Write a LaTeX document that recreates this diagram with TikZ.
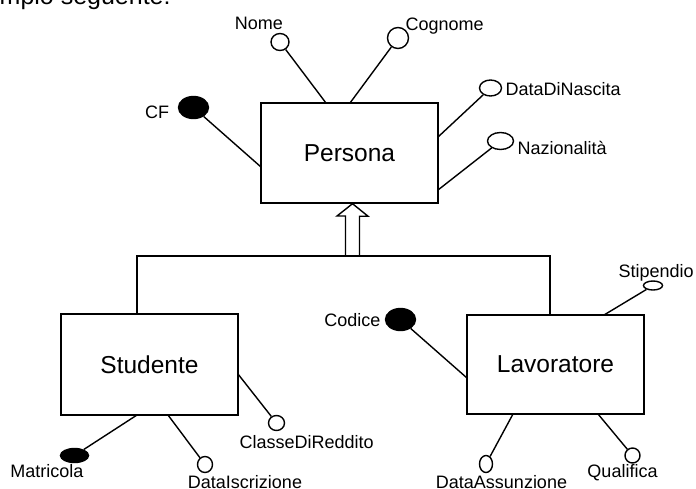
\documentclass[tikz,border=0pt]{standalone}
\usepackage{fontspec}
\setmainfont{Liberation Sans}
\usetikzlibrary{shapes.geometric}
\begin{document}
\begin{tikzpicture}[x=1pt,y=-1pt,line width=1.4pt,
  entity/.style={draw,rectangle,inner sep=0pt,minimum width=177pt,minimum height=100pt,
    font=\fontsize{24.5}{28}\selectfont},
  attr/.style={draw,ellipse,inner sep=0pt},
  keyattr/.style={attr,fill=black},
  lab/.style={inner sep=0pt,anchor=base,font=\fontsize{18}{21}\selectfont},
  labw/.style={lab,anchor=base west},
  labe/.style={lab,anchor=base east}]
\useasboundingbox (0,0) rectangle (696,488);
\clip (0,0) rectangle (696,488);

% heading line of the surrounding text
\node[inner sep=0pt,anchor=base west,font=\fontsize{25}{30}\selectfont] (head) at (-1,4.5) {mpio seguente:};

% entities
\node[entity] (persona) at (349.5,153) {Persona};
\node[entity,minimum height=101pt] (studente) at (149.5,364.5) {Studente};
\node[entity,minimum height=99pt] (lavoratore) at (555.5,364.5) {Lavoratore};

% attachment points on the entity borders
\coordinate (pNome) at (326,103);
\coordinate (pCognome) at (350,103);
\coordinate (pData) at (438,137);
\coordinate (pNaz) at (438,190);
\coordinate (pCF) at (261,167);
\coordinate (sMatr) at (137,415);
\coordinate (sIscr) at (168,415);
\coordinate (sClasse) at (238,374);
\coordinate (lCod) at (467,378);
\coordinate (lStip) at (604,315);
\coordinate (lAss) at (513,414);
\coordinate (lQual) at (598,414);

% attributes of Persona
\node[attr,minimum width=18pt,minimum height=17pt] (nome) at (280,42) {};
\node[attr,minimum width=21pt,minimum height=21pt] (cognome) at (398,38) {};
\node[attr,minimum width=22pt,minimum height=16pt] (datanascita) at (490.5,88) {};
\node[attr,minimum width=26pt,minimum height=17pt] (naz) at (500.5,141) {};
\node[keyattr,minimum width=30pt,minimum height=22pt] (cf) at (193.5,107.5) {};

\node[lab] (nomeL) at (259,29) {Nome};
\node[labw] (cognomeL) at (405,30) {Cognome};
\node[labw] (datanascitaL) at (505,95) {DataDiNascita};
\node[labw] (nazL) at (517,154) {Nazionalità};
\node[lab] (cfL) at (157,118.3) {CF};

\draw (nome) -- (pNome);
\draw (cognome) -- (pCognome);
\draw (datanascita) -- (pData);
\draw (naz) -- (pNaz);
\draw (cf) -- (pCF);

% attributes of Studente
\node[keyattr,minimum width=28pt,minimum height=14pt] (matr) at (74.5,455.5) {};
\node[attr,minimum width=15pt,minimum height=16pt] (iscr) at (205,464.5) {};
\node[attr,minimum width=16pt,minimum height=15pt] (classe) at (276.5,423) {};

\node[lab] (matrL) at (47,477) {Matricola};
\node[lab] (iscrL) at (245,488) {DataIscrizione};
\node[labw] (classeL) at (239,448.3) {ClasseDiReddito};

\draw (matr) -- (sMatr);
\draw (iscr) -- (sIscr);
\draw (classe) -- (sClasse);

% attributes of Lavoratore
\node[keyattr,minimum width=30pt,minimum height=22pt] (codice) at (400.5,319.5) {};
\node[attr,minimum width=19pt,minimum height=9pt] (stip) at (653,285.5) {};
\node[attr,minimum width=13pt,minimum height=17pt] (ass) at (486,464) {};
\node[attr,minimum width=15pt,minimum height=15pt] (qual) at (632.5,455.5) {};

\node[labe] (codiceL) at (381,326) {Codice};
\node[labw] (stipL) at (618,277.7) {Stipendio};
\node[lab] (assL) at (501.5,488) {DataAssunzione};
\node[lab] (qualL) at (622.5,477.7) {Qualifica};

\draw (codice) -- (lCod);
\draw (stip) -- (lStip);
\draw (ass) -- (lAss);
\draw (qual) -- (lQual);

% generalization
\coordinate (gS) at (137,314);
\coordinate (gL) at (550,315);
\coordinate (gJ) at (352.5,256);
\draw (gS) -- (gS |- gJ) -- (gL |- gJ) -- (gL);
\draw[line join=miter] (gJ) ++(-7,0) -- ++(0,-40) -- ++(-8.5,0)
  -- (persona.south -| gJ) -- ++(15.5,12.5) -- ++(-8.5,0) -- ++(0,40);
\end{tikzpicture}
\end{document}
